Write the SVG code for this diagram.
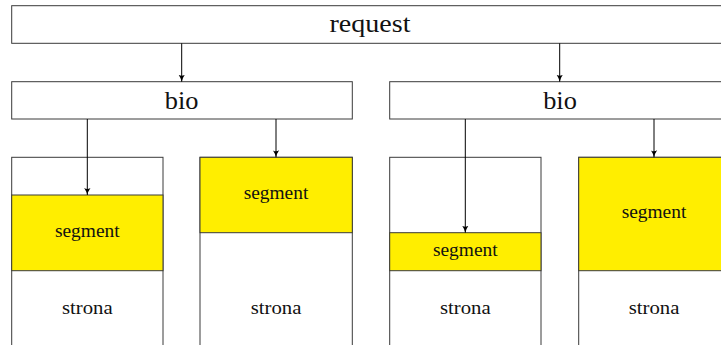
<svg xmlns="http://www.w3.org/2000/svg" width="721" height="345" viewBox="0 0 721 345">
<defs>
<style>
.box{fill:#ffffff;stroke:#3a3a3a;stroke-width:1}
.seg{fill:#ffee00;stroke:#3a3a3a;stroke-width:1}
text{font-family:'Liberation Serif','Times New Roman',serif;fill:#111;text-anchor:middle}
.big{font-size:26px}
.sm{font-size:19px}
.arr{stroke:#000;stroke-width:1;fill:none;marker-end:url(#ah)}
</style>
<marker id="ah" viewBox="0 0 10 10" refX="10" refY="5" markerWidth="7" markerHeight="7" markerUnits="userSpaceOnUse" orient="auto">
<path d="M0,0.5 Q5,4 10,5 Q5,6 0,9.5 Q3,5 0,0.5Z" fill="#000"/>
</marker>
</defs>
<rect width="721" height="345" fill="#ffffff"/>
<g id="request">
<rect class="box" x="11.7" y="5.7" width="717" height="37.6"/>
<text class="big" x="370" y="31.5" textLength="81" lengthAdjust="spacingAndGlyphs">request</text>
</g>
<g id="bio1">
<rect class="box" x="11.7" y="81.7" width="340.6" height="37.3"/>
<text class="big" x="181.7" y="108.5" textLength="33.7" lengthAdjust="spacingAndGlyphs">bio</text>
</g>
<g id="bio2">
<rect class="box" x="389.7" y="81.7" width="340.6" height="37.3"/>
<text class="big" x="560" y="108.5" textLength="33.7" lengthAdjust="spacingAndGlyphs">bio</text>
</g>
<g id="page1">
<rect class="box" x="11.7" y="157.3" width="151.3" height="200"/>
<rect class="seg" x="11.7" y="195" width="151.3" height="75.7"/>
<text class="sm" x="87.3" y="237" textLength="64.7" lengthAdjust="spacingAndGlyphs">segment</text>
<text class="sm" x="87.3" y="313.5" textLength="50.7" lengthAdjust="spacingAndGlyphs">strona</text>
</g>
<g id="page2">
<rect class="box" x="200" y="157.3" width="152.3" height="200"/>
<rect class="seg" x="200" y="157.3" width="152.3" height="75.4"/>
<text class="sm" x="276" y="198.5" textLength="64.7" lengthAdjust="spacingAndGlyphs">segment</text>
<text class="sm" x="276" y="313.5" textLength="50.7" lengthAdjust="spacingAndGlyphs">strona</text>
</g>
<g id="page3">
<rect class="box" x="389.7" y="157.3" width="151.3" height="200"/>
<rect class="seg" x="389.7" y="232.7" width="151.3" height="38"/>
<text class="sm" x="465.3" y="255.7" textLength="64.7" lengthAdjust="spacingAndGlyphs">segment</text>
<text class="sm" x="465.3" y="313.5" textLength="50.7" lengthAdjust="spacingAndGlyphs">strona</text>
</g>
<g id="page4">
<rect class="box" x="578.7" y="157.3" width="151.3" height="200"/>
<rect class="seg" x="578.7" y="157.3" width="151.3" height="113.4"/>
<text class="sm" x="654" y="217.5" textLength="64.7" lengthAdjust="spacingAndGlyphs">segment</text>
<text class="sm" x="654" y="313.5" textLength="50.7" lengthAdjust="spacingAndGlyphs">strona</text>
</g>
<g id="connectors">
<line class="arr" x1="181.7" y1="43.3" x2="181.7" y2="81.7"/>
<line class="arr" x1="559.7" y1="43.3" x2="559.7" y2="81.7"/>
<line class="arr" x1="87.3" y1="119" x2="87.3" y2="195"/>
<line class="arr" x1="276" y1="119" x2="276" y2="157.3"/>
<line class="arr" x1="465.3" y1="119" x2="465.3" y2="232.7"/>
<line class="arr" x1="654" y1="119" x2="654" y2="157.3"/>
</g>
</svg>
